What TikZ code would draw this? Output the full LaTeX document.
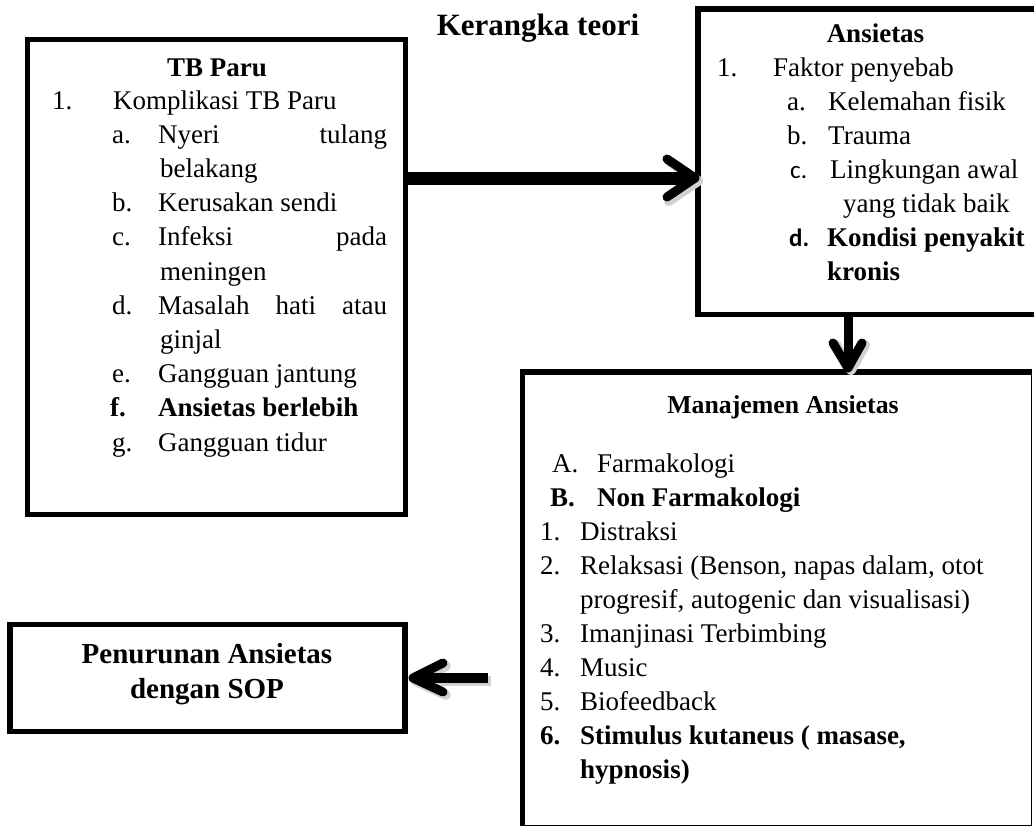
\documentclass[tikz,border=0pt]{standalone}
\usepackage{fontspec}
\setmainfont{Liberation Serif}
\newfontfamily\sansnum{Carlito}
\usetikzlibrary{calc}
\begin{document}
\begin{tikzpicture}[x=1pt,y=-1pt,
  txt/.style={anchor=base west, inner sep=0pt, font=\fontsize{27}{32}\selectfont},
  txtb/.style={anchor=base west, inner sep=0pt, font=\fontsize{27}{32}\selectfont\bfseries},
  boxline/.style={draw, line width=5.5pt, inner sep=0pt, outer sep=0pt, rectangle},
  shaft/.style={line width=13pt},
  thinshaft/.style={line width=9pt},
  head/.style={line width=9pt, line cap=round, line join=round},
  shadow/.style={draw=black!18, line width=10pt, line cap=round, line join=round}]
\useasboundingbox (0,0) rectangle (1034,828);

% boxes
\node[boxline, minimum width=378pt, minimum height=475pt] (tb) at (216.5,277) {};
\node[inner sep=0pt, outer sep=0pt, minimum width=336pt, minimum height=305.5pt] (an) at (866,161.75) {};
\draw[line width=5.5pt] (an.north east) -- (an.north west) -- (an.south west) -- (an.south east);
\node[draw, line width=1.5pt, inner sep=0pt, outer sep=0pt, minimum width=509pt, minimum height=453.5pt] (mj) at (777,598.75) {};
\draw[line width=5.5pt] (mj.south west) -- (mj.north west) -- (mj.north east);
\node[boxline, minimum width=395pt, minimum height=107pt] (pn) at (207.5,678) {};

% title
\node[anchor=base, inner sep=0pt, font=\fontsize{31}{36}\selectfont\bfseries] (title) at (538,35) {Kerangka teori};

% TB Paru
\node[txtb, anchor=base] (tbt) at (217,76) {TB Paru};
\node[txt] (tb1n) at (52,109) {1.};
\node[txt] (tb1) at (113,109) {Komplikasi TB Paru};
\node[txt] (tban) at (112,143.2) {a.};
\node[txt] (tba) at (158,143.2) {\makebox[229pt][l]{Nyeri\hfill tulang}};
\node[txt] (tba2) at (160,177.4) {belakang};
\node[txt] (tbbn) at (112,211.6) {b.};
\node[txt] (tbb) at (158,211.6) {Kerusakan sendi};
\node[txt] (tbcn) at (112,245.8) {c.};
\node[txt] (tbc) at (158,245.8) {\makebox[229pt][l]{Infeksi\hfill pada}};
\node[txt] (tbc2) at (160,280) {meningen};
\node[txt] (tbdn) at (112,314.2) {d.};
\node[txt] (tbd) at (158,314.2) {\makebox[229pt][l]{Masalah\hfill hati\hfill atau}};
\node[txt] (tbd2) at (160,348.4) {ginjal};
\node[txt] (tben) at (112,382.6) {e.};
\node[txt] (tbe) at (158,382.6) {Gangguan jantung};
\node[txtb] (tbfn) at (110,416.8) {f.};
\node[txtb] (tbf) at (158,416.8) {Ansietas berlebih};
\node[txt] (tbgn) at (112,451) {g.};
\node[txt] (tbg) at (158,451) {Gangguan tidur};

% Ansietas
\node[txtb, anchor=base] (ant) at (875.5,42) {Ansietas};
\node[txt] (an1n) at (717,76) {1.};
\node[txt] (an1) at (773,76) {Faktor penyebab};
\node[txt] (anan) at (787,110) {a.};
\node[txt] (ana) at (828,110) {Kelemahan fisik};
\node[txt] (anbn) at (787,144) {b.};
\node[txt] (anb) at (828,144) {Trauma};
\node[txt, font=\fontsize{25}{30}\sansnum] (ancn) at (790,178) {c.};
\node[txt] (anc) at (830,178) {Lingkungan awal};
\node[txt] (anc2) at (843,212) {yang tidak baik};
\node[txt, font=\fontsize{25}{30}\sansnum\bfseries] (andn) at (789,246) {d.};
\node[txtb] (and) at (827,246) {Kondisi penyakit};
\node[txtb] (and2) at (827,280) {kronis};

% Manajemen
\node[anchor=base, inner sep=0pt, font=\fontsize{25.8}{31}\selectfont\bfseries] (mjt) at (783,413) {Manajemen Ansietas};
\node[txt] (mjan) at (552,472) {A.};
\node[txt] (mja) at (597,472) {Farmakologi};
\node[txtb] (mjbn) at (550,506) {B.};
\node[txtb] (mjb) at (597,506) {Non Farmakologi};
\node[txt] (mj1n) at (540,540) {1.};
\node[txt] (mj1) at (580,540) {Distraksi};
\node[txt] (mj2n) at (540,574) {2.};
\node[txt] (mj2) at (580,574) {Relaksasi (Benson, napas dalam, otot};
\node[txt] (mj2b) at (580,608) {progresif, autogenic dan visualisasi)};
\node[txt] (mj3n) at (540,642) {3.};
\node[txt] (mj3) at (580,642) {Imanjinasi Terbimbing};
\node[txt] (mj4n) at (540,676) {4.};
\node[txt] (mj4) at (580,676) {Music};
\node[txt] (mj5n) at (540,710) {5.};
\node[txt] (mj5) at (580,710) {Biofeedback};
\node[txtb] (mj6n) at (540,744) {6.};
\node[txtb] (mj6) at (580,744) {Stimulus kutaneus ( masase,};
\node[txtb] (mj6b) at (580,778) {hypnosis)};

% Penurunan
\node[anchor=base, inner sep=0pt, font=\fontsize{29}{34}\selectfont\bfseries] (pn1) at (207,663) {Penurunan Ansietas};
\node[anchor=base, inner sep=0pt, font=\fontsize{29}{34}\selectfont\bfseries] (pn2) at (207,698) {dengan SOP};

% arrows
\coordinate (h1s) at (tb.east |- 0,178);
\coordinate (h1e) at (an.west |- 0,178);
\draw[shadow] ($(h1e)+(-29,-17)$) -- ($(h1e)+(0,3)$) -- ($(h1e)+(-29,23)$);
\draw[shaft] (h1s) -- ($(h1e)+(-8,0)$);
\draw[head] ($(h1e)+(-31,-19)$) -- ($(h1e)+(-3,0)$) -- ($(h1e)+(-31,19)$);

\coordinate (v1s) at (an.south -| 848,0);
\coordinate (v1e) at (mj.north -| 848,0);
\draw[shadow] ($(v1e)+(-12,-27)$) -- ($(v1e)+(3,-2)$) -- ($(v1e)+(17,-27)$);
\draw[thinshaft] (v1s) -- ($(v1e)+(0,-8)$);
\draw[head] ($(v1e)+(-15,-29)$) -- ($(v1e)+(0,-4)$) -- ($(v1e)+(14,-29)$);

\coordinate (l1s) at (488,678);
\coordinate (l1e) at ($(pn.east)+(8,0)$);
\draw[shadow] ($(l1e)+(33,-12)$) -- ($(l1e)+(3,3)$) -- ($(l1e)+(33,17)$);
\draw[draw=black!18, line width=10pt] ($(l1s)+(3,3)$) -- ($(l1e)+(8,3)$);
\draw[line width=10pt] (l1s) -- ($(l1e)+(4,0)$);
\draw[head] ($(l1e)+(30,-15)$) -- (l1e) -- ($(l1e)+(30,14)$);
\end{tikzpicture}
\end{document}
